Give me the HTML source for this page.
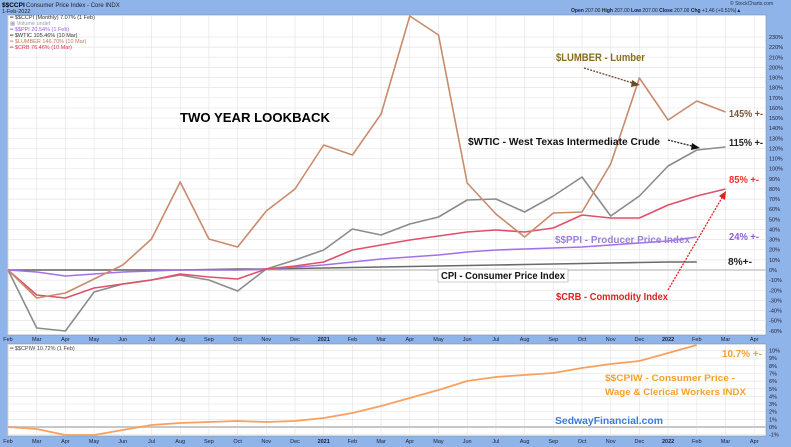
<!DOCTYPE html>
<html><head><meta charset="utf-8"><style>
html,body{margin:0;padding:0;background:#8fb4ea;}
svg{display:block;font-family:"Liberation Sans",sans-serif;}
</style></head><body>
<svg id="s" width="791" height="447" xmlns="http://www.w3.org/2000/svg">
<rect width="791" height="447" fill="#8fb4ea"/>
<rect x="8" y="15" width="758" height="320" fill="#fff" stroke="#7a8fb0" stroke-width="0.6"/>
<rect x="8" y="344" width="758" height="92" fill="#fff" stroke="#7a8fb0" stroke-width="0.6"/>
<g id="grid" stroke="#e6e6e6" stroke-width="0.7"></g>
<g id="labels" font-size="5.5" fill="#223"></g>
<text x="2" y="7" font-size="6.5" font-weight="bold" fill="#000">$$CCPI</text>
<text x="26" y="7" font-size="6" fill="#222">Consumer Price Index - Core INDX</text>
<text x="2" y="13" font-size="5.5" fill="#222">1-Feb-2022</text>
<text x="730" y="5" font-size="5" fill="#234">© StockCharts.com</text>
<text x="571" y="12" font-size="5" fill="#223"><tspan font-weight="bold">Open</tspan> 207.00 <tspan font-weight="bold">High</tspan> 207.00 <tspan font-weight="bold">Low</tspan> 207.00 <tspan font-weight="bold">Close</tspan> 207.00 <tspan font-weight="bold">Chg</tspan> +1.46 (+0.51%)▲</text>
<g font-size="5.5">
<text x="10" y="19" fill="#333">━ $$CCPI (Monthly) 7.07% (1 Feb)</text>
<text x="10" y="25" fill="#99b">▦ Volume undef</text>
<text x="10" y="31" fill="#9a5ee0">━ $$PPI 20.54% (1 Feb)</text>
<text x="10" y="37" fill="#333">━ $WTIC 105.46% (10 Mar)</text>
<text x="10" y="43" fill="#c07a55">━ $LUMBER 146.70% (10 Mar)</text>
<text x="10" y="49" fill="#e0304a">━ $CRB 76.46% (10 Mar)</text>
<text x="10" y="350" fill="#444">━ $$CPIW 10.72% (1 Feb)</text>
</g>
<line x1="8" y1="270" x2="766" y2="270" stroke="#c8c8c8" stroke-width="1.5"/>
<line x1="8" y1="427" x2="766" y2="427" stroke="#c8c8c8" stroke-width="2"/>
<g id="series" fill="none" stroke-width="1.6" stroke-linejoin="round"></g>
<g font-weight="bold" lengthAdjust="spacingAndGlyphs">
<text x="180" y="122" font-size="13" fill="#000" textLength="150" lengthAdjust="spacingAndGlyphs">TWO YEAR LOOKBACK</text>
<text x="556" y="61" font-size="11" fill="#8a6d1c" textLength="89" lengthAdjust="spacingAndGlyphs">$LUMBER - Lumber</text>
<text x="468" y="145" font-size="10.5" fill="#111" textLength="192" lengthAdjust="spacingAndGlyphs">$WTIC - West Texas Intermediate Crude</text>
<text x="729" y="117" font-size="10.5" fill="#7a5535" textLength="34" lengthAdjust="spacingAndGlyphs">145% +-</text>
<text x="729" y="146" font-size="10.5" fill="#222" textLength="34" lengthAdjust="spacingAndGlyphs">115% +-</text>
<text x="729" y="183" font-size="10.5" fill="#f03030" textLength="30" lengthAdjust="spacingAndGlyphs">85% +-</text>
<text x="729" y="240" font-size="10.5" fill="#8a5ed0" textLength="30" lengthAdjust="spacingAndGlyphs">24% +-</text>
<text x="728" y="265" font-size="10.5" fill="#222" textLength="24" lengthAdjust="spacingAndGlyphs">8%+-</text>
<text x="555" y="243" font-size="10" fill="#9b82d8" textLength="135" lengthAdjust="spacingAndGlyphs">$$PPI - Producer Price Index</text>
<rect x="438" y="269" width="130" height="13" fill="#fff" stroke="#aaa" stroke-width="0.6"/>
<text x="441" y="279" font-size="10" fill="#111" textLength="124" lengthAdjust="spacingAndGlyphs">CPI - Consumer Price Index</text>
<text x="556" y="300" font-size="10" fill="#e02020" textLength="112" lengthAdjust="spacingAndGlyphs">$CRB - Commodity Index</text>
<text x="722" y="357" font-size="10" fill="#f5a030" textLength="40" lengthAdjust="spacingAndGlyphs">10.7% +-</text>
<text x="605" y="381" font-size="9.5" fill="#f5a030" textLength="130" lengthAdjust="spacingAndGlyphs">$$CPIW - Consumer Price -</text>
<text x="605" y="395" font-size="9.5" fill="#f5a030" textLength="141" lengthAdjust="spacingAndGlyphs">Wage &amp; Clerical Workers INDX</text>
<text x="555" y="424" font-size="10.5" fill="#3a7be0" textLength="108" lengthAdjust="spacingAndGlyphs">SedwayFinancial.com</text>
</g>
<g stroke-dasharray="2,1.2" stroke-width="1.3" fill="none">
<line x1="584" y1="68" x2="636" y2="84" stroke="#6b4a2a"/>
<line x1="668" y1="140" x2="696" y2="147" stroke="#222"/>
<line x1="668" y1="290" x2="723" y2="196" stroke="#e02020"/>
</g>
<polygon points="640,85 632,80 631,87" fill="#6b4a2a"/>
<polygon points="700,148 692,143 691,150" fill="#111"/>
<polygon points="726,191 719,196 725,200" fill="#e02020"/>
</svg>
<script>
var NS="http://www.w3.org/2000/svg";
function el(p,t,a,txt){var e=document.createElementNS(NS,t);for(var k in a)e.setAttribute(k,a[k]);if(txt)e.textContent=txt;document.getElementById(p).appendChild(e);return e;}
var X=function(i){return 8+i*28.7;};
var months=["Feb","Mar","Apr","May","Jun","Jul","Aug","Sep","Oct","Nov","Dec","2021","Feb","Mar","Apr","May","Jun","Jul","Aug","Sep","Oct","Nov","Dec","2022","Feb","Mar","Apr"];
for(var i=0;i<months.length;i++){var x=X(i);
 el("grid","line",{x1:x,y1:15,x2:x,y2:335});el("grid","line",{x1:x,y1:344,x2:x,y2:436});
 var b=(months[i]=="2021"||months[i]=="2022")?"bold":"normal";
 el("labels","text",{x:x,y:341,"text-anchor":"middle","font-weight":b},months[i]);
 el("labels","text",{x:x,y:443,"text-anchor":"middle","font-weight":b},months[i]);}
for(var p=230;p>=-60;p-=10){var y=270-p*1.013;el("grid","line",{x1:8,y1:y,x2:766,y2:y});
 el("labels","text",{x:769,y:y+2},p+"%");}
for(var p=10;p>=-1;p--){var y=427-p*7.65;el("grid","line",{x1:8,y1:y,x2:766,y2:y});
 el("labels","text",{x:769,y:y+2},p+"%");}
function line(v,c,w){var pts=v.map(function(y,i){return X(i)+","+y}).join(" ");el("series","polyline",{points:pts,stroke:c,"stroke-width":w||1.6});}
line([270,270,270,270,270,270,270,269.5,269,269,268.5,268,267.5,267,266.5,266,265.5,265,264.5,264,263.5,263,262.5,262,262],"#6a6a6a");
line([270,272,276,274,272,271,270,270,270,269,267,265,262,259,257,255,252,250,249,248,247,245,243,241,237],"#a470e8");
line([270,328,331,292,284,280,275,280,291,269,260,250,229,235,224,217,200,199,212,196,177,216,196,166,150,147],"#8c8c8c");
line([270,295,298,288,284,280,274,277,279,269,266,262,250,245,240,236,232,230,232,228,215,218,218,205,196,189],"#e0506a");
line([270,298,293,279,265,239,182,239,247,211,189,145,155,114,16,35,183,214,237,213,212,164,78,120,101,112],"#c98b6b");
line([427,429,435,435,430,425,423,422,421,422,421,418,413,406,398,390,381,377,375,373,368,364,361,353,345],"#f7a060",1.8);
</script>
</body></html>
